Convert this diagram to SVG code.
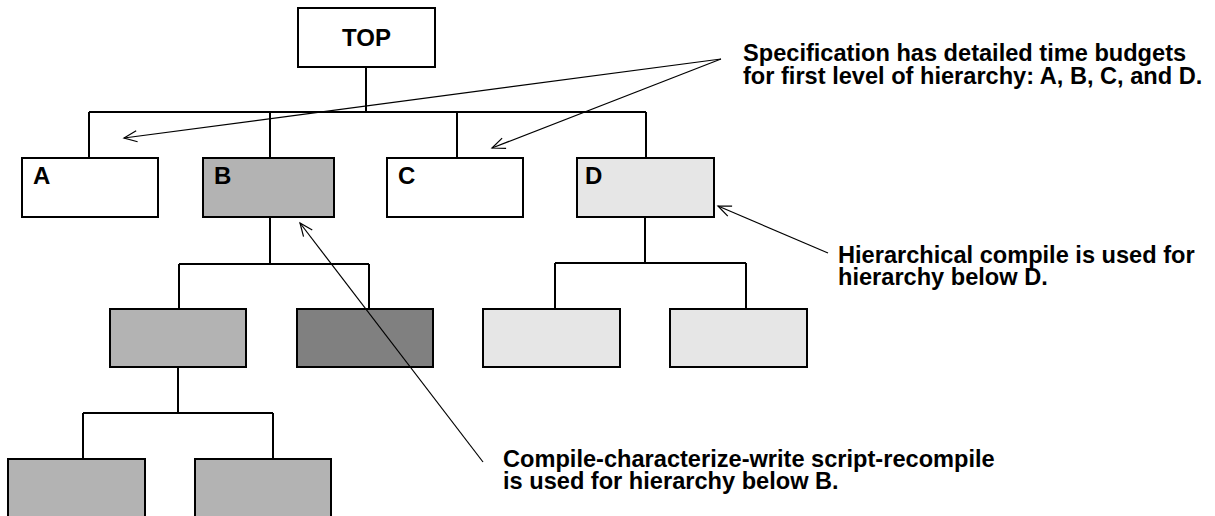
<svg xmlns="http://www.w3.org/2000/svg" width="1215" height="516" viewBox="0 0 1215 516">
<style>
  .box { stroke: #000; stroke-width: 2; }
  .w { fill: #fff; }
  .g { fill: #b3b3b3; }
  .dk { fill: #808080; }
  .lt { fill: #e6e6e6; }
  .tree { fill: none; stroke: #000; stroke-width: 2; }
  .arr { fill: none; stroke: #000; stroke-width: 1.2; marker-end: url(#open); }
  text { font-family: "Liberation Sans", Arial, Helvetica, sans-serif; font-weight: bold; font-size: 24px; fill: #000; }
  .note { font-size: 23.6px; }
</style>
<defs>
  <marker id="open" markerUnits="userSpaceOnUse" markerWidth="16" markerHeight="14" refX="14" refY="7" orient="auto" viewBox="0 0 16 14">
    <path d="M1,1.5 L14,7 L1,12.5" fill="none" stroke="#000" stroke-width="1.2"/>
  </marker>
</defs>
<rect width="1215" height="516" fill="#fff"/>

<g id="node-top">
  <rect class="box w" x="298" y="8" width="137" height="59"/>
  <text x="366.5" y="46" text-anchor="middle">TOP</text>
</g>
<g id="node-a">
  <rect class="box w" x="22" y="158" width="136" height="59"/>
  <text x="33" y="184">A</text>
</g>
<g id="node-b">
  <rect class="box g" x="203" y="158" width="131" height="59"/>
  <text x="214" y="184">B</text>
</g>
<g id="node-c">
  <rect class="box w" x="387" y="158" width="136" height="59"/>
  <text x="398" y="184">C</text>
</g>
<g id="node-d">
  <rect class="box lt" x="577" y="158" width="137" height="59"/>
  <text x="585" y="184">D</text>
</g>
<g id="node-b1">
  <rect class="box g" x="110" y="309" width="136" height="58"/>
</g>
<g id="node-b2">
  <rect class="box dk" x="297" y="309" width="136" height="58"/>
</g>
<g id="node-d1">
  <rect class="box lt" x="483" y="309" width="137" height="58"/>
</g>
<g id="node-d2">
  <rect class="box lt" x="670" y="309" width="137" height="58"/>
</g>
<g id="node-b11">
  <rect class="box g" x="8" y="459" width="137" height="70"/>
</g>
<g id="node-b12">
  <rect class="box g" x="195" y="459" width="136" height="70"/>
</g>

<g id="note-spec">
  <text class="note"><tspan x="743" y="61">Specification has detailed time budgets</tspan><tspan x="743" y="83.5">for first level of hierarchy: A, B, C, and D.</tspan></text>
</g>
<g id="note-d">
  <text class="note"><tspan x="838" y="262.5">Hierarchical compile is used for</tspan><tspan x="838" y="284.5">hierarchy below D.</tspan></text>
</g>
<g id="note-b">
  <text class="note"><tspan x="503" y="466.5">Compile-characterize-write script-recompile</tspan><tspan x="503" y="488.5">is used for hierarchy below B.</tspan></text>
</g>

<g id="connectors">
  <path class="tree" d="M366,67 V112 M89,112 H646 M89,112 V158 M270,112 V158 M457,112 V158 M646,112 V158"/>
  <path class="tree" d="M270,217 V264 M179,264 H369 M179,264 V309 M369,264 V309"/>
  <path class="tree" d="M178,367 V413 M83,413 H273 M83,413 V459 M273,413 V459"/>
  <path class="tree" d="M645,217 V263 M555,263 H746 M555,263 V309 M746,263 V309"/>
  <line class="arr" x1="721" y1="59" x2="124" y2="138"/>
  <line class="arr" x1="721" y1="59" x2="492" y2="148"/>
  <line class="arr" x1="828" y1="253" x2="718" y2="206"/>
  <line class="arr" x1="483" y1="462" x2="300" y2="223"/>
</g>
</svg>
